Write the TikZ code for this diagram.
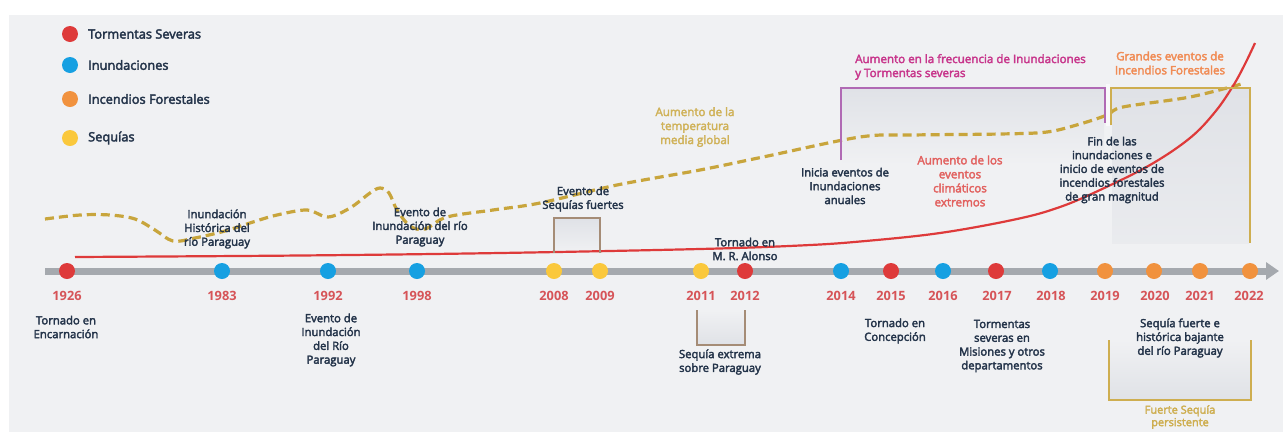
\documentclass[tikz,border=0pt]{standalone}
\usepackage{fontspec}
\setmainfont{Open Sans}
\newfontfamily\lbl{Open Sans}[FakeBold=3]
\usetikzlibrary{arrows.meta}

\definecolor{bgc}{RGB}{240,241,243}
\definecolor{ink}{RGB}{36,52,74}
\definecolor{stormc}{RGB}{222,58,58}
\definecolor{floodc}{RGB}{22,160,226}
\definecolor{firec}{RGB}{241,146,62}
\definecolor{droughtc}{RGB}{250,200,60}
\definecolor{yearc}{RGB}{214,84,88}
\definecolor{axisc}{RGB}{165,169,174}
\definecolor{goldc}{RGB}{200,165,60}
\definecolor{goldline}{RGB}{206,174,80}
\definecolor{purplec}{RGB}{176,106,180}
\definecolor{magentac}{RGB}{200,55,140}
\definecolor{orangec}{RGB}{240,140,85}
\definecolor{salmonc}{RGB}{226,98,96}
\definecolor{taupec}{RGB}{165,140,118}
\definecolor{boxfill}{RGB}{224,226,231}

\tikzset{
  lab/.style={font=\lbl\fontsize{11.3}{13.8}\selectfont, text=ink, align=center, inner sep=0pt},
  leg/.style={font=\lbl\fontsize{12.8}{14}\selectfont, text=ink, anchor=west, inner sep=0pt},
  yr/.style={font=\bfseries\fontsize{12.8}{14}\selectfont, text=yearc, inner sep=0pt},
  dot/.style={circle, minimum size=16pt, inner sep=0pt},
  storm/.style={dot, fill=stormc},
  flood/.style={dot, fill=floodc},
  fire/.style={dot, fill=firec},
  drought/.style={dot, fill=droughtc},
  note/.style={font=\lbl\fontsize{11.6}{14}\selectfont, align=center, inner sep=0pt},
  bracket/.style={line width=1.6pt},
  tempcurve/.style={goldc, line width=3.2pt, dash pattern=on 9pt off 5pt},
  riskcurve/.style={stormc, line width=2.2pt},
}

\begin{document}
\begin{tikzpicture}[x=1pt,y=-1pt]
\useasboundingbox (0,0) rectangle (1283,432);
% page background
\fill[white] (0,0) rectangle (1283,432);
\fill[bgc] (9,15) rectangle (1283,432);

% shaded insides of the brackets
\shade[top color=boxfill, bottom color=bgc] (842,89) rectangle (1104,165);
\shade[top color=boxfill, bottom color=bgc!60!boxfill] (1112,89) rectangle (1249,243);
\shade[top color=boxfill, bottom color=bgc] (555,219) rectangle (599,253);
\shade[top color=bgc, bottom color=boxfill] (698,310) rectangle (744,344);
\shade[top color=bgc, bottom color=boxfill] (1110,340) rectangle (1250,399);

% rising global temperature
\draw[tempcurve] plot[smooth, tension=0.55] coordinates {
  (45,219) (80,215) (110,215) (135,219) (155,230) (173,241) (195,238)
  (225,231) (253,222) (277,215) (307,210) (328,217) (350,208) (370,193)
  (380,188) (389,193) (397,210) (410,226) (425,229) (447,217) (493,210)
  (540,203) (617,185) (700,170) (763,157) (860,137) (913,135) (1000,134)
  (1047,132) (1080,124) (1107,115) (1123,107) (1190,97) (1245,83)};
% gap between the two top brackets
\fill[white!60!bgc] (1106,84) rectangle (1110,126);

% frequency of extreme events
\draw[riskcurve] plot[smooth, tension=0.6] coordinates {
  (75,257) (300,255.5) (500,253) (700,249) (800,245.5) (860,241.5)
  (940,233) (1017,219) (1060,207) (1100,190) (1150,165) (1190,138)
  (1215,112) (1233,86) (1245,64) (1255,43)};

% brackets
\draw[bracket, purplec] (841,160) -- (841,88) -- (1105,88) -- (1105,123);
\draw[bracket, goldline] (1111,125) -- (1111,88) -- (1250,88) -- (1250,243);
\draw[bracket, taupec] (554,253) -- (554,218) -- (600,218) -- (600,253);
\draw[bracket, taupec] (697,310) -- (697,345) -- (745,345) -- (745,310);
\draw[bracket, goldline] (1109,340) -- (1109,400) -- (1251,400) -- (1251,340);

% time axis
\coordinate (a0) at (45,271);
\coordinate (a1) at (1279,271);
\draw[axisc, line width=7pt, -{Triangle[length=13pt,width=17pt]}] (a0) -- (a1);

% legend
\node[storm]   (ls) at (70,34) {};
\node[flood]   (lf) at (70,65) {};
\node[fire]    (li) at (70,99) {};
\node[drought] (ld) at (70,138) {};
\node[leg] (lst) at (88,34) {Tormentas Severas};
\node[leg] (lft) at (88,65) {Inundaciones};
\node[leg] (lit) at (88,99) {Incendios Forestales};
\node[leg] (ldt) at (88,138) {Sequías};

% events on the axis
\node[storm]   (e1926) at (67,271) {};
\node[flood]   (e1983) at (222,271) {};
\node[flood]   (e1992) at (328,271) {};
\node[flood]   (e1998) at (417,271) {};
\node[drought] (e2008) at (554,271) {};
\node[drought] (e2009) at (600,271) {};
\node[drought] (e2011) at (701,271) {};
\node[storm]   (e2012) at (745,271) {};
\node[flood]   (e2014) at (841,271) {};
\node[storm]   (e2015) at (891,271) {};
\node[flood]   (e2016) at (943,271) {};
\node[storm]   (e2017) at (996,271) {};
\node[flood]   (e2018) at (1050,271) {};
\node[fire]    (e2019) at (1105,271) {};
\node[fire]    (e2020) at (1154,271) {};
\node[fire]    (e2021) at (1200,271) {};
\node[fire]    (e2022) at (1250,271) {};

% years
\node[yr] (y1926) at (67,296) {1926};
\node[yr] (y1983) at (222,296) {1983};
\node[yr] (y1992) at (328,296) {1992};
\node[yr] (y1998) at (417,296) {1998};
\node[yr] (y2008) at (554,296) {2008};
\node[yr] (y2009) at (600,296) {2009};
\node[yr] (y2011) at (701,296) {2011};
\node[yr] (y2012) at (745,296) {2012};
\node[yr] (y2014) at (841,296) {2014};
\node[yr] (y2015) at (891,296) {2015};
\node[yr] (y2016) at (943,296) {2016};
\node[yr] (y2017) at (997,296) {2017};
\node[yr] (y2018) at (1051,296) {2018};
\node[yr] (y2019) at (1105,296) {2019};
\node[yr] (y2020) at (1155,296) {2020};
\node[yr] (y2021) at (1200,296) {2021};
\node[yr] (y2022) at (1249,296) {2022};

% event descriptions
\node[lab] (t1926) at (66,327) {Tornado en\\Encarnación};
\node[lab] (t1983) at (217,229) {Inundación\\Histórica del\\río Paraguay};
\node[lab] (t1992) at (331,340) {Evento de\\Inundación\\del Río\\Paraguay};
\node[lab] (t1998) at (420,227) {Evento de\\Inundación del río\\Paraguay};
\node[lab] (t2008) at (583,199) {Evento de\\Sequías fuertes};
\node[lab] (t2011) at (720,362) {Sequía extrema\\sobre Paraguay};
\node[lab] (t2012) at (745,249) {Tornado en\\M. R. Alonso};
\node[lab] (t2014) at (845,186) {Inicia eventos de\\Inundaciones\\anuales};
\node[lab] (t2015) at (895,331) {Tornado en\\Concepción};
\node[lab] (t2017) at (1002,346) {Tormentas\\severas en\\Misiones y otros\\departamentos};
\node[lab] (t2019) at (1112,170) {Fin de las\\inundaciones e\\inicio de eventos de\\incendios forestales\\de gran magnitud};
\node[lab] (t2020) at (1180,338) {Sequía fuerte e\\histórica bajante\\del río Paraguay};

% trend notes
\node[note, text=goldc!85!white] (ntemp) at (695,127) {Aumento de la\\temperatura\\media global};
\node[note, text=salmonc] (next) at (960,181) {Aumento de los\\eventos\\climáticos\\extremos};
\node[note, text=magentac, align=left, anchor=west] (nfreq) at (855,67) {Aumento en la frecuencia de Inundaciones\\y Tormentas severas};
\node[note, text=orangec] (nfire) at (1170,63) {Grandes eventos de\\Incendios Forestales};
\node[note, text=goldline, anchor=north, font=\lbl\fontsize{11}{12.5}\selectfont] (ndry) at (1180,405) {Fuerte Sequía\\persistente};
\end{tikzpicture}
\end{document}
